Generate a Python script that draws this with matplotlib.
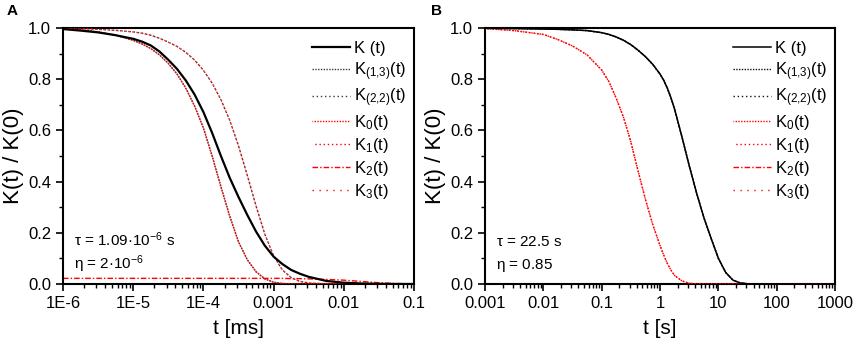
import numpy as np
import matplotlib
matplotlib.use("Agg")
import matplotlib.pyplot as plt
from matplotlib.ticker import FixedLocator, LogLocator, NullFormatter, MultipleLocator, FormatStrFormatter

plt.rcParams['font.family'] = ['Liberation Sans', 'DejaVu Sans']
plt.rcParams['mathtext.default'] = 'regular'

# ---- panel A (log10 of t in ms) ----
logt_A = [-6, -5.75, -5.5, -5.25, -5, -4.875, -4.75, -4.625, -4.5, -4.375, -4.25,
          -4.125, -4, -3.875, -3.75, -3.625, -3.5, -3.375, -3.25, -3.125, -3,
          -2.875, -2.75, -2.625, -2.5, -2.25, -2, -1.75, -1.5, -1.25, -1]
K_A   = [0.996, 0.99, 0.983, 0.972, 0.958, 0.947, 0.932, 0.908, 0.876, 0.84, 0.795,
         0.74, 0.672, 0.59, 0.50, 0.415, 0.34, 0.27, 0.205, 0.15, 0.107,
         0.078, 0.055, 0.04, 0.028, 0.012, 0.005, 0.002, 0.0005, 0, 0]
K13_A = [0.998, 0.993, 0.985, 0.972, 0.952, 0.938, 0.92, 0.895, 0.862, 0.82, 0.765,
         0.695, 0.61, 0.50, 0.38, 0.265, 0.165, 0.095, 0.048, 0.02, 0.007,
         0.002, 0.0005, 0, 0, 0, 0, 0, 0, 0, 0]
K22_A = [0.999, 0.998, 0.995, 0.991, 0.985, 0.98, 0.972, 0.96, 0.945, 0.928, 0.905,
         0.875, 0.835, 0.785, 0.72, 0.64, 0.54, 0.425, 0.305, 0.195, 0.11,
         0.055, 0.025, 0.01, 0.004, 0.0005, 0, 0, 0, 0, 0]
K0_A  = K13_A
K1_A  = K22_A
K2_A  = [0.022, 0.022, 0.022, 0.022, 0.022, 0.022, 0.022, 0.022, 0.022, 0.022, 0.022,
         0.022, 0.022, 0.022, 0.022, 0.022, 0.022, 0.022, 0.022, 0.022, 0.022,
         0.022, 0.021, 0.021, 0.02, 0.018, 0.015, 0.01, 0.005, 0.002, 0]
K3_A  = [0] * len(logt_A)

# ---- panel B (log10 of t in s) ----
logt_B = [-3, -2.5, -2, -1.75, -1.5, -1.25, -1, -0.875, -0.75, -0.625, -0.5, -0.375,
          -0.25, -0.125, 0, 0.0625, 0.125, 0.1875, 0.25, 0.375, 0.5, 0.625, 0.75, 0.875,
          1, 1.125, 1.25, 1.375, 1.5, 2, 2.5, 3]
K_B   = [0.999, 0.998, 0.996, 0.995, 0.993, 0.99, 0.982, 0.975, 0.965, 0.952, 0.935, 0.913,
         0.888, 0.858, 0.82, 0.796, 0.765, 0.727, 0.682, 0.575, 0.462, 0.356, 0.26, 0.178,
         0.10, 0.045, 0.015, 0.004, 0.001, 0, 0, 0]
K0_B  = [0.998, 0.99, 0.975, 0.955, 0.93, 0.895, 0.836, 0.79, 0.725, 0.65, 0.555, 0.44,
         0.33, 0.232, 0.15, 0.113, 0.08, 0.054, 0.033, 0.012, 0.003, 0, 0, 0,
         0, 0, 0, 0, 0, 0, 0, 0]
K13_B = K_B
K22_B = K_B
K1_B  = K0_B
K2_B  = [0] * len(logt_B)
K3_B  = [0] * len(logt_B)

labels = ['K (t)', 'K$_{(1{,}3)}$(t)', 'K$_{(2{,}2)}$(t)', 'K$_0$(t)', 'K$_1$(t)',
          'K$_2$(t)', 'K$_3$(t)']

fig = plt.figure(figsize=(8.56, 3.42), dpi=100)
axA = fig.add_axes([0.0736, 0.1696, 0.41, 0.7484])
axB = fig.add_axes([0.5666, 0.1696, 0.409, 0.7484])


def draw(ax, logt, series, grey, lwK):
    t = 10.0 ** np.array(logt)
    K, K13, K22, K0, K1, K2, K3 = series
    ax.plot(t, K3, color='red', lw=1.0, ls=(0, (1, 4)), label=labels[6], zorder=2)
    ax.plot(t, K2, color='red', lw=1.0, ls=(0, (4, 1.5, 1, 1.5)), label=labels[5], zorder=2)
    ax.plot(t, K13, color=grey, lw=1.0, ls=(0, (1, 1)), label=labels[1], zorder=3)
    ax.plot(t, K22, color=grey, lw=1.0, ls=(0, (1, 2)), label=labels[2], zorder=3)
    ax.plot(t, K0, color='red', lw=1.0, ls=(0.5, (1, 1)), label=labels[3], zorder=3)
    ax.plot(t, K1, color='red', lw=1.0, ls=(1, (1, 2)), label=labels[4], zorder=3)
    ax.plot(t, K, color='black', lw=lwK, ls='-', label=labels[0], zorder=4)
    h, l = ax.get_legend_handles_labels()
    order = [l.index(s) for s in labels]
    ax.legend([h[i] for i in order], [l[i] for i in order], loc='upper right',
              frameon=False, fontsize=12, handlelength=2.3, handletextpad=0.25,
              labelspacing=0.24, borderaxespad=0.0, bbox_to_anchor=(0.998, 0.975))
    ax.set_xscale('log')
    ax.set_ylim(0, 1.0)
    ax.yaxis.set_major_locator(FixedLocator([0, 0.2, 0.4, 0.6, 0.8, 1.0]))
    ax.yaxis.set_major_formatter(FormatStrFormatter('%.1f'))
    ax.yaxis.set_minor_locator(MultipleLocator(0.1))
    ax.xaxis.set_minor_locator(LogLocator(base=10, subs=np.arange(2, 10), numticks=20))
    ax.xaxis.set_minor_formatter(NullFormatter())
    ax.tick_params(which='major', direction='out', length=5, width=1.2, labelsize=12)
    ax.tick_params(which='minor', direction='out', length=3, width=1.0)
    for s in ax.spines.values():
        s.set_linewidth(1.5)
    ax.set_ylabel('K(t) / K(0)', fontsize=16, labelpad=3)


draw(axA, logt_A, [K_A, K13_A, K22_A, K0_A, K1_A, K2_A, K3_A], '#3a3a3a', 1.6)
axA.set_xlim(1e-6, 0.1)
axA.xaxis.set_major_locator(FixedLocator([1e-6, 1e-5, 1e-4, 1e-3, 1e-2, 1e-1]))
axA.set_xticklabels(['1E-6', '1E-5', '1E-4', '0.001', '0.01', '0.1'])
axA.set_xlabel('t [ms]', fontsize=15, labelpad=6)
axA.text(0.03, 0.148, r'$\tau$ = 1.09·10$^{-6}$ s', transform=axA.transAxes, fontsize=11)
axA.text(0.03, 0.06, r'$\eta$ = 2·10$^{-6}$', transform=axA.transAxes, fontsize=11)

draw(axB, logt_B, [K_B, K13_B, K22_B, K0_B, K1_B, K2_B, K3_B], '#111111', 1.1)
axB.set_xlim(1e-3, 1e3)
axB.xaxis.set_major_locator(FixedLocator([1e-3, 1e-2, 1e-1, 1, 10, 100, 1000]))
axB.set_xticklabels(['0.001', '0.01', '0.1', '1', '10', '100', '1000'])
axB.set_xlabel('t [s]', fontsize=15, labelpad=6)
axB.text(0.03, 0.148, r'$\tau$ = 22.5 s', transform=axB.transAxes, fontsize=11)
axB.text(0.03, 0.06, r'$\eta$ = 0.85', transform=axB.transAxes, fontsize=11)

fig.text(0.008, 0.955, 'A', fontsize=11, fontweight='bold')
fig.text(0.503, 0.955, 'B', fontsize=11, fontweight='bold')

fig.savefig('out.png', dpi=100)
